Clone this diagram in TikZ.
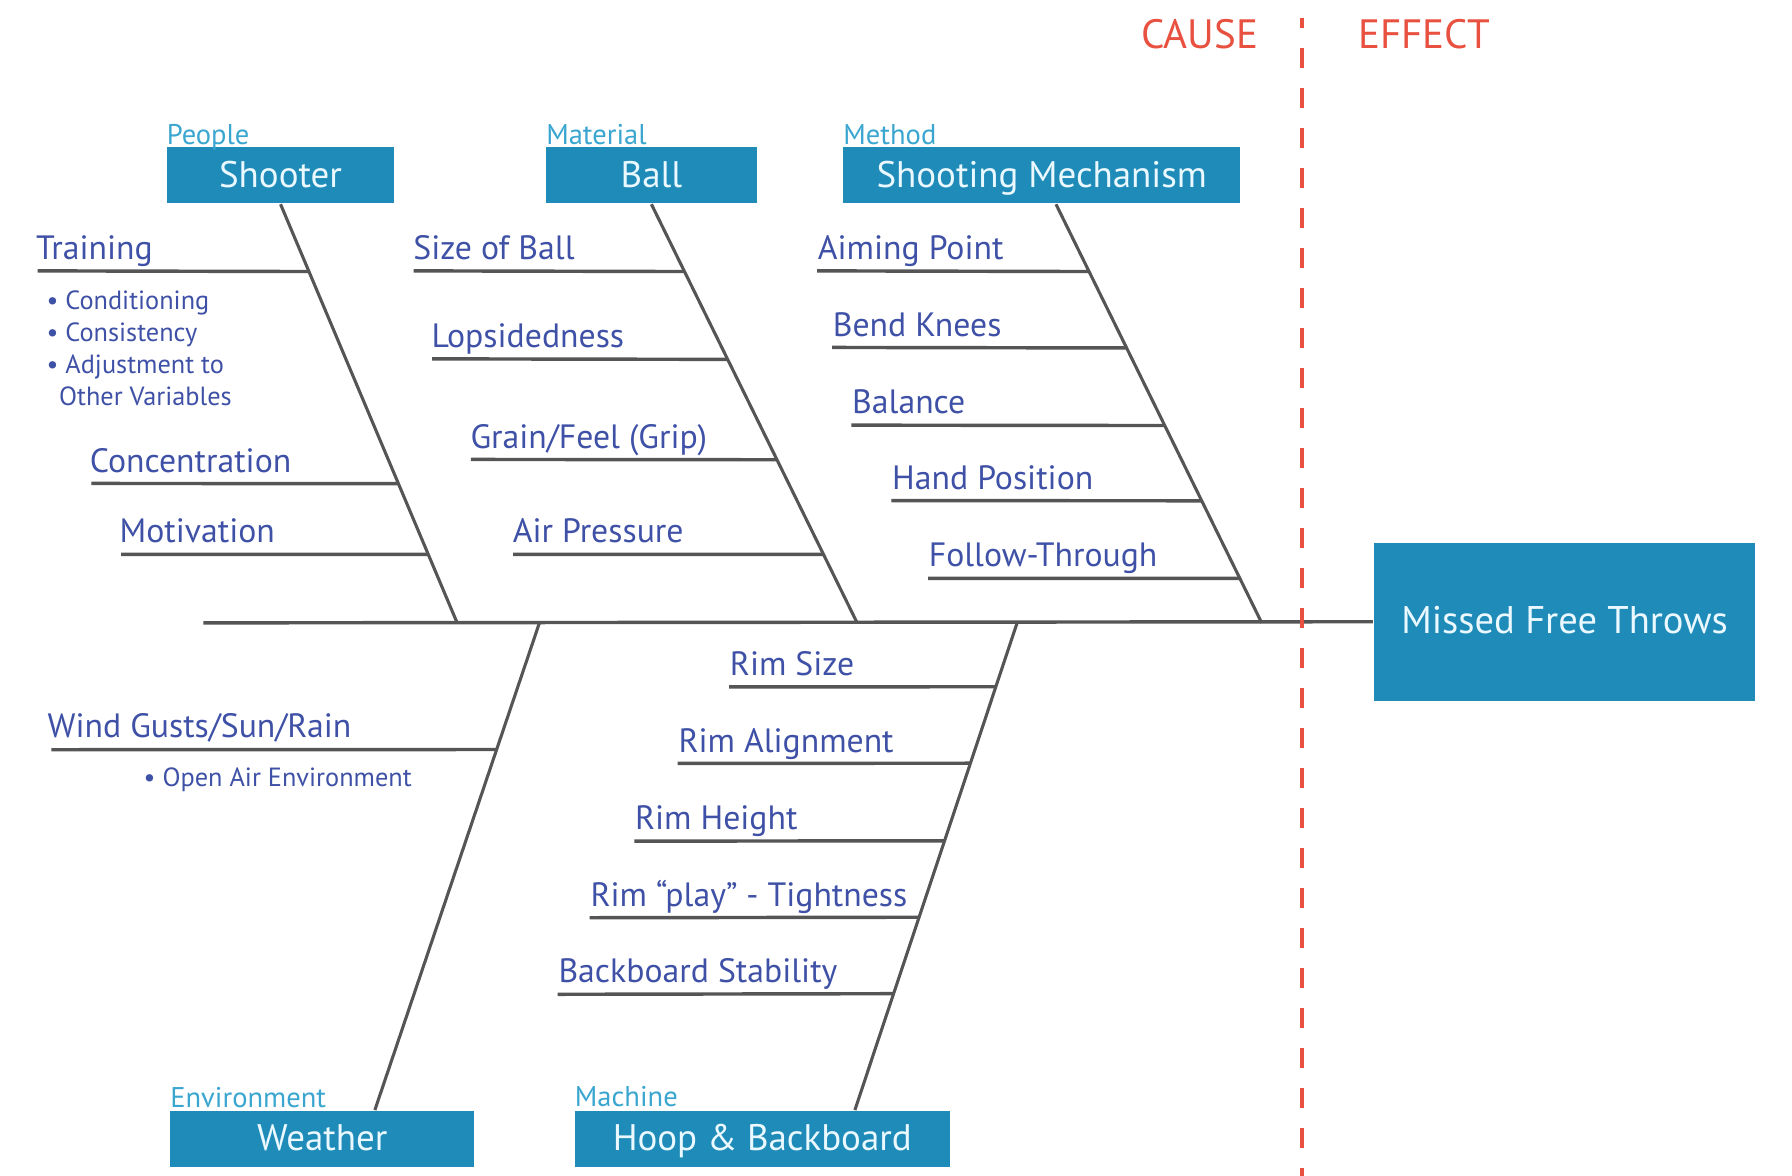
\documentclass[tikz,border=0pt]{standalone}
\usepackage{fontspec}
\setmainfont{PT Sans}
\usetikzlibrary{calc}
\definecolor{boxblue}{HTML}{1E8BB8}
\definecolor{boxtext}{HTML}{EAF8FF}
\definecolor{catblue}{HTML}{3AA6D0}
\definecolor{txtblue}{HTML}{3F51A6}
\definecolor{bonegray}{HTML}{555555}
\definecolor{cered}{HTML}{E8503F}

\begin{document}
\begin{tikzpicture}[x=0.1mm, y=-0.1mm,
  cat/.style = {fill=boxblue, text=boxtext, minimum height=4.9mm, inner sep=0pt, text height=2.1mm, text depth=0pt, font=\fontsize{9.2}{11}\selectfont},
  grp/.style = {text=catblue, anchor=base west, inner sep=0pt, font=\fontsize{7.1}{8}\selectfont},
  cause/.style = {text=txtblue, anchor=base west, inner sep=0pt, font=\fontsize{8.4}{10}\selectfont},
  note/.style = {text=txtblue, anchor=base west, inner sep=0pt, font=\fontsize{6.55}{8}\selectfont},
  side/.style = {text=cered, anchor=base west, inner sep=0pt, font=\fontsize{10.2}{12}\selectfont},
  bone/.style = {draw=bonegray, line width=0.27mm},
  rib/.style = {draw=bonegray, line width=0.3mm}]
\useasboundingbox (0,0) rectangle (1568,1029);

% category boxes and the effect
\node[cat, minimum width=19.9mm] (shooter) at (245.5,153.5) {Shooter};
\node[cat, minimum width=18.4mm] (ball) at (570,153.5) {Ball};
\node[cat, minimum width=34.7mm] (mech) at (911.5,153.5) {Shooting Mechanism};
\node[cat, minimum width=26.6mm] (weather) at (282,996.5) {Weather};
\node[cat, minimum width=32.8mm] (hoop) at (667,996.5) {Hoop \& Backboard};
\node[cat, minimum width=33.4mm, minimum height=13.8mm, font=\fontsize{9.6}{11}\selectfont] (effect) at (1369,544) {Missed Free Throws};

\node[grp] (people) at ($(shooter.north west)+(0,-2)$) {People};
\node[grp] (material) at ($(ball.north west)+(0,-2)$) {Material};
\node[grp] (method) at ($(mech.north west)+(0,-2)$) {Method};
\node[grp] (envir) at ($(weather.north west)+(0,-2)$) {Environment};
\node[grp] (machine) at ($(hoop.north west)+(0,-3)$) {Machine};

% spine
\coordinate (tail) at (178,545);
\coordinate (sp1) at (400,545);
\coordinate (sp2) at (750,545);
\coordinate (sp3) at (1104,545);
\coordinate (sp4) at (472,545);
\coordinate (sp5) at (890,545);
\draw[rib] (tail) -- (effect.west);

% bones
\coordinate (mtop) at ([xshift=1.25mm]mech.south);
\coordinate (wtop) at ([xshift=4.6mm]weather.north);
\coordinate (htop) at ([xshift=8.1mm]hoop.north);
\draw[bone] (shooter.south) -- (sp1);
\draw[bone] (ball.south) -- (sp2);
\draw[bone] (mtop) -- (sp3);
\draw[bone] (sp4) -- (wtop);
\draw[bone] (sp5) -- (htop);

% causes
\foreach \x/\y/\t/\n in {33/237/Training/tr, 80/423/Concentration/co, 106/485/Motivation/mo}{
  \coordinate (\n0) at (\x,\y);
  \coordinate (\n1) at ($(shooter.south)!{(\y-178)/367}!(sp1)$);
  \node[cause] (\n) at (\x-2,{\y-10}) {\t};
  \draw[rib] (\n0) -- (\n1);
}
\foreach \x/\y/\t/\n in {362/237/Size of Ball/sb, 378/314/Lopsidedness/lo, 412/402/{Grain/Feel (Grip)}/gr, 449/485/Air Pressure/ap}{
  \coordinate (\n0) at (\x,\y);
  \coordinate (\n1) at ($(ball.south)!{(\y-178)/367}!(sp2)$);
  \node[cause] (\n) at (\x-1,{\y-10}) {\t};
  \draw[rib] (\n0) -- (\n1);
}
\foreach \x/\y/\t/\n in {715/237/Aiming Point/ai, 728/304/Bend Knees/bk, 745/372/Balance/ba, 780/438/Hand Position/hp, 812/506/Follow-Through/ft}{
  \coordinate (\n0) at (\x,\y);
  \coordinate (\n1) at ($(mtop)!{(\y-178)/367}!(sp3)$);
  \node[cause] (\n) at (\x,{\y-10}) {\t};
  \draw[rib] (\n0) -- (\n1);
}
\foreach \x/\y/\t/\n in {45/656/{Wind Gusts/Sun/Rain}/wg}{
  \coordinate (\n0) at (\x,\y);
  \coordinate (\n1) at ($(sp4)!{(\y-545)/427}!(wtop)$);
  \node[cause] (\n) at (\x-4,{\y-11}) {\t};
  \draw[rib] (\n0) -- (\n1);
}
\foreach \x/\y/\t/\n in {638/601/Rim Size/rs, 593/668/Rim Alignment/ra, 555/736/Rim Height/rh, 516/803/{Rim “play” - Tightness}/rp, 488/870/Backboard Stability/bs}{
  \coordinate (\n0) at (\x,\y);
  \coordinate (\n1) at ($(sp5)!{(\y-545)/427}!(htop)$);
  \node[cause] (\n) at (\x,{\y-10}) {\t};
  \draw[rib] (\n0) -- (\n1);
}

% bullet notes
\foreach \y/\t/\n in {271/• Conditioning/nc, 299/• Consistency/ns, 327/• Adjustment to/na}
  \node[note] (\n) at (40,\y) {\t};
\node[note] (nv) at (51,354.5) {Other Variables};
\node[note] (no) at (125,688) {• Open Air Environment};

% cause / effect divider
\node[side] (cause) at (998,42) {CAUSE};
\node[side] (effectlbl) at (1188,42) {EFFECT};
\coordinate (d0) at (1139,16);
\coordinate (d1) at (1139,1029);
\draw[cered, line width=0.36mm, dash pattern=on 1.75mm off 1.75mm, dash phase=0.9mm] (d0) -- (d1);
\end{tikzpicture}
\end{document}
